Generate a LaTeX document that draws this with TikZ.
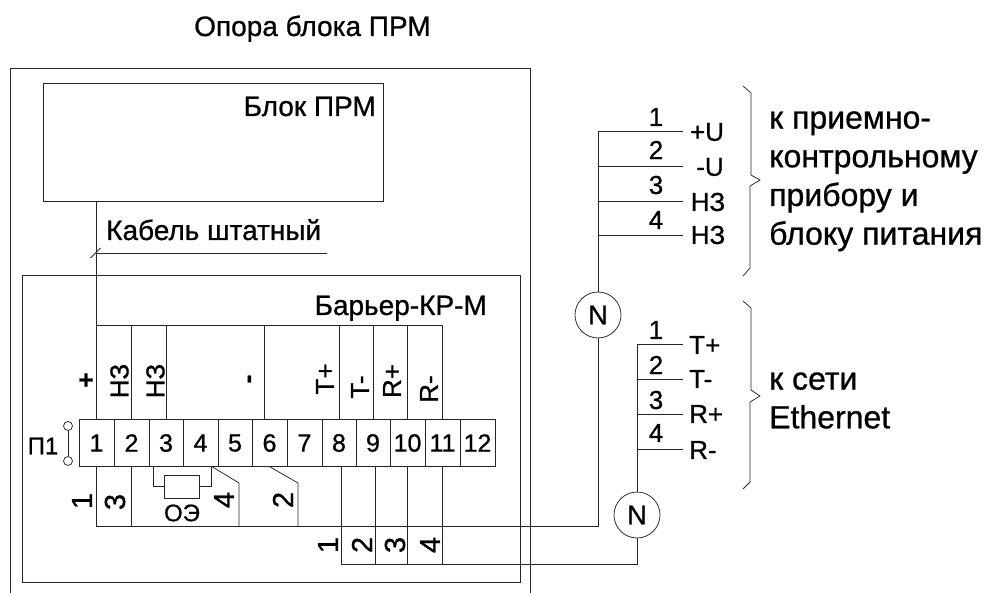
\documentclass[tikz,border=0pt]{standalone}
\usepackage{fontspec}
\setmainfont{Liberation Sans}[FakeBold=0.8]
\usetikzlibrary{positioning,calc}

\begin{document}
\begin{tikzpicture}[
x=1pt,y=-1pt,
wire/.style={line width=0.75pt,black!85},
term/.style={draw,wire,text=black,inner sep=0pt,minimum height=46.5pt,font=\fontsize{25}{25}\selectfont},
lbl/.style={inner sep=0pt,font=\fontsize{28}{28}\selectfont},
num/.style={inner sep=0pt,font=\fontsize{26}{26}\selectfont},
rot/.style={num,rotate=90},
rotnum/.style={inner sep=0pt,rotate=90,font=\fontsize{29}{29}\selectfont},
side/.style={inner sep=0pt,anchor=west,align=left,font=\fontsize{32}{38.7}\selectfont},
nbox/.style={draw,wire,text=black,circle,inner sep=0pt,minimum size=46pt,font=\fontsize{27}{27}\selectfont},
]
	\useasboundingbox (0,0) rectangle (987,593);
	% enclosures
	\draw[wire] (10,593) -- (10,68) -- (530,68) -- (530,593);
	\node[lbl,anchor=base west] (opora) at (194,36) {Опора блока ПРМ};
	\node[draw,wire,minimum width=339.5pt,minimum height=118pt] (blok) at (213.25,142) {};
	\node[lbl,anchor=base east] (blokname) at (376,116) {Блок ПРМ};
	\node[draw,wire,minimum width=498pt,minimum height=307pt] (barrier) at (271,428.5) {};
	\node[lbl,anchor=base east] (barriername) at (487,315) {Барьер-КР-М};
	% terminals
	\foreach \n/\a/\b in {1/79/114,2/114/149,3/149/183,4/183/218,5/218/252,6/252/287,
		7/287/322,8/322/356,9/356/390,10/390/425,11/425/460,12/460/495}
		\node[term,minimum width={(\b-\a)*1pt}] (t\n) at ({(\a+\b)/2},443) {\raisebox{-2pt}{\n}};
	\node[inner sep=0pt,font=\fontsize{24}{24}\selectfont] (p1) at (43,446) {П1};
	\node[draw,wire,circle,inner sep=0pt,minimum size=9pt] (j1) at (68,426) {};
	\node[draw,wire,circle,inner sep=0pt,minimum size=9pt] (j2) at (68,461) {};
	\draw[wire] (j1) -- (j2);
	% cable from the unit
	\coordinate (topbar) at (97,325);
	\coordinate (cableend) at (327,253);
	\draw[wire] (blok.south -| t1.north) -- (t1.north);
	\draw[wire] (cableend) -- (cableend -| t1.north);
	\draw[wire] ($(cableend -| t1.north)+(-6,5)$) -- ($(cableend -| t1.north)+(4,-5)$);
	\node[lbl,anchor=base west] (cable) at (106,240) {Кабель штатный};
	% upper contacts
	\draw[wire] (t1.north |- topbar) -- (t11.north |- topbar);
	\foreach \n in {2,3,8,9,10,11}
		\draw[wire] (t\n.north) -- (t\n.north |- topbar);
	\draw[wire] ([xshift=-5.5pt]t6.north) -- ([xshift=-5.5pt]t6.north |- topbar);
	\node[num] (plus) at (86,381) {\textbf{+}};
	\node[rot] (nz1) at (119.5,381) {НЗ};
	\node[rot] (nz2) at (155.5,381) {НЗ};
	\node[rot] (minus) at (252,379) {\textbf{-}};
	\node[rot] (tplus) at (325,379) {T+};
	\node[rot] (tminus) at (360,387) {T-};
	\node[rot] (rplus) at (392,381) {R+};
	\node[rot] (rminus) at (429,389) {R-};
	% connectors to the first N
	\node[nbox] (n1) at (598,315) {N};
	\node[nbox] (n2) at (637,515) {N};
	\coordinate (lowa) at (97,526);
	\coordinate (lowb) at (341,564);
	\coordinate (kink4) at (239,483);
	\coordinate (kink6) at (298,483);
	\draw[wire] (t1.south) -- (t1.south |- lowa) -- (lowa -| n1.south) -- (n1.south);
	\draw[wire] (t2.south) -- (t2.south |- lowa);
	\draw[wire] ([xshift=11.5pt]t4.south) -- (kink4) -- (kink4 |- lowa);
	\draw[wire] (t6.south) -- (kink6) -- (kink6 |- lowa);
	% resistor
	\node[draw,wire,minimum width=35pt,minimum height=23pt] (oe) at (181.5,486.5) {};
	\node[inner sep=0pt,font=\fontsize{24}{24}\selectfont] (oename) at (182,513) {ОЭ};
	\draw[wire] ([xshift=-13pt]t3.south) |- (oe.west);
	\draw[wire] ([xshift=10.5pt]t4.south) |- (oe.east);
	\node[rotnum] (w1) at (82,501) {1};
	\node[rotnum] (w3) at (115,502) {3};
	\node[rotnum] (w4) at (224,500) {4};
	\node[rotnum] (w2) at (283,500) {2};
	% connectors to the second N
	\draw[wire] ([xshift=2pt]t8.south) -- ([xshift=2pt]t8.south |- lowb) -- (lowb -| n2.south) -- (n2.south);
	\draw[wire] ([xshift=2pt]t9.south) -- ([xshift=2pt]t9.south |- lowb);
	\draw[wire] (t10.south) -- (t10.south |- lowb);
	\draw[wire] (t11.south) -- (t11.south |- lowb);
	\node[rotnum] (e1) at (328,545) {1};
	\node[rotnum] (e2) at (362,545) {2};
	\node[rotnum] (e3) at (395,545) {3};
	\node[rotnum] (e4) at (430,545) {4};
	% upper outlet
	\foreach \i/\y in {1/131,2/166,3/201,4/235} {
		\coordinate (u\i) at (683,\y);
		\draw[wire] (u\i) -- (u\i -| n1.north);
	}
	\draw[wire] (n1.north) -- (n1.north |- u1);
	\foreach \i/\y in {1/117,2/150,3/185,4/220}
		\node[num] (un\i) at (656,\y) {\i};
	\node[num] (up) at (707,132) {+U};
	\node[num] (um) at (710,167) {-U};
	\node[num] (unz1) at (708,202) {НЗ};
	\node[num] (unz2) at (708,235) {НЗ};
	\draw[wire] (743,86) -- (751,93) -- (751,175) -- (760,180) -- (750,186) -- (750,268) -- (743,276);
	\node[side] (upname) at (769,181.3)
		{к приемно-\\контрольному\\прибору и\\блоку питания};
	% lower outlet
	\foreach \i/\y in {1/344.5,2/379,3/414,4/449} {
		\coordinate (e\i) at (683,\y);
		\draw[wire] (e\i) -- (e\i -| n2.north);
	}
	\draw[wire] (n2.north) -- (n2.north |- e1);
	\foreach \i/\y in {1/330,2/365,3/400,4/433}
		\node[num] (en\i) at (656,\y) {\i};
	\foreach \i/\t/\y in {1/T+/345,2/T-/379,3/R+/414,4/R-/450}
		\node[num,anchor=west] (el\i) at (689,\y) {\t};
	\draw[wire] (743,301) -- (751,308) -- (751,390) -- (760,396) -- (750,402) -- (750,482) -- (743,489);
	\node[side] (ethname) at (769,400.5)
		{к сети\\Ethernet};
\end{tikzpicture}
\end{document}
